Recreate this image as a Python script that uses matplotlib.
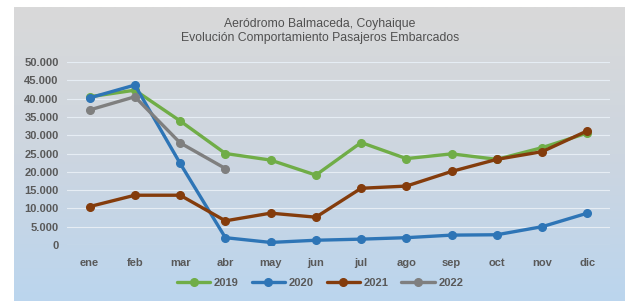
import matplotlib
matplotlib.use("Agg")
import matplotlib.pyplot as plt
import numpy as np
from matplotlib.colors import LinearSegmentedColormap

months = ["ene", "feb", "mar", "abr", "may", "jun", "jul", "ago", "sep", "oct", "nov", "dic"]
y2019 = [40500, 42300, 33900, 25000, 23200, 19100, 28000, 23600, 24900, 23400, 26600, 30600]
y2020 = [40200, 43700, 22300, 2000, 700, 1300, 1600, 2000, 2700, 2800, 5000, 8700]
y2021 = [10500, 13600, 13600, 6600, 8700, 7600, 15500, 16100, 20100, 23400, 25500, 31200]
y2022 = [36900, 40500, 27900, 20900]
yticks = list(range(0, 50001, 5000))
ytick_labels = ["0" if v == 0 else f"{v:,}".replace(",", ".") for v in yticks]

plt.rcParams['font.family'] = ['Liberation Sans', 'DejaVu Sans']

W, H = 626, 301
fig = plt.figure(figsize=(W / 100, H / 100), dpi=100)
fig.patch.set_facecolor("white")

# gradient background
bg = fig.add_axes([14 / W, 0, (625 - 14) / W, (H - 7) / H])
cmap = LinearSegmentedColormap.from_list("g", ["#D9D9D9", "#CDD6E0", "#BBD5EE"])
grad = np.linspace(1, 0, 256).reshape(-1, 1)
bg.imshow(grad, aspect="auto", cmap=cmap, extent=[0, 1, 0, 1], origin="lower")
bg.axis("off")

ax = fig.add_axes([67 / W, (H - 245) / H, (610 - 67) / W, (245 - 62) / H])
ax.patch.set_alpha(0)
x = np.arange(len(months))
series = [(y2019, "2019", "#70AD47"), (y2020, "2020", "#2E75B6"),
          (y2021, "2021", "#843C0C"), (y2022, "2022", "#7F7F7F")]
for vals, lab, col in series:
    ax.plot(x[:len(vals)], vals, color=col, lw=2.4, marker="o", ms=5.5, label=lab,
            solid_capstyle="round", zorder=3)

ax.set_xlim(-0.5, 11.5)
ax.set_ylim(0, 50000)
ax.set_yticks(yticks)
ax.set_yticklabels(ytick_labels)
ax.set_xticks(x)
ax.set_xticklabels(months)
ax.grid(axis="y", color="#E6EDF4", lw=0.8, zorder=0)
for s in ax.spines.values():
    s.set_visible(False)
ax.tick_params(length=0, labelsize=8, labelcolor="#595959", pad=6)
for t in ax.get_xticklabels() + ax.get_yticklabels():
    t.set_fontweight("bold")
ax.tick_params(axis="x", pad=9)

fig.text(320 / W, 1 - 31 / H, "Aeródromo Balmaceda, Coyhaique\nEvolución Comportamiento Pasajeros Embarcados",
         ha="center", va="center", fontsize=8.8, color="#505050", linespacing=1.12)

leg = fig.legend(loc="center", bbox_to_anchor=(320 / W, 1 - 283 / H), ncol=4, frameon=False,
                 fontsize=8, handlelength=3, columnspacing=1.2, handletextpad=0.3)
for t in leg.get_texts():
    t.set_color("#595959")
    t.set_fontweight("bold")

fig.savefig("out.png", dpi=100)
